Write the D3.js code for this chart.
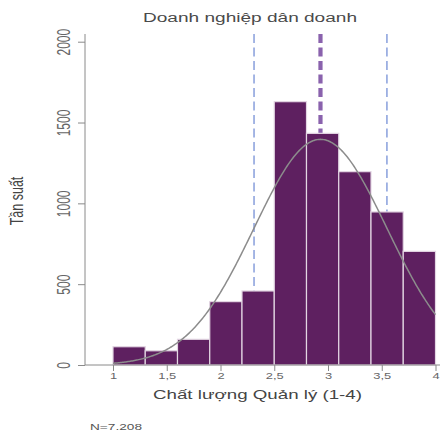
<!DOCTYPE html>
<html>
<head>
<meta charset="utf-8">
<script src="https://cdn.jsdelivr.net/npm/d3@7"></script>
<style>
html,body{margin:0;padding:0;background:#fff;}
svg{display:block;}
text{font-family:"Liberation Sans",Arial,Helvetica,sans-serif;}
</style>
</head>
<body>
<svg id="chart" width="440" height="432"></svg>
<script>
// ---- data ----
const binStarts = [1.0, 1.3, 1.6, 1.9, 2.2, 2.5, 2.8, 3.1, 3.4, 3.7];
const binWidth = 0.3;
const counts = [113, 88, 159, 392, 458, 1629, 1433, 1196, 947, 703];
const xTickValues = [1, 1.5, 2, 2.5, 3, 3.5, 4];
const xTickLabels = ["1", "1,5", "2", "2,5", "3", "3,5", "4"];
const yTickValues = [0, 500, 1000, 1500, 2000];
const yTickLabels = ["0", "500", "1000", "1500", "2000"];
const meanValue = 2.93;
const sdValue = 0.618;
const nObs = 7208;
const titleText = "Doanh nghiệp dân doanh";
const xLabel = "Chất lượng Quản lý (1-4)";
const yLabel = "Tần suất";
const noteText = "N=7.208";

// ---- layout ----
const svg = d3.select("#chart");
const X0 = 113, X1 = 435.5, Y0 = 365, Y1 = 41.7, AXIS_X = 85, TOP = 34;
const x = d3.scaleLinear().domain([1, 4]).range([X0, X1]);
const y = d3.scaleLinear().domain([0, 2000]).range([Y0, Y1]);
const SX = 1.52; // horizontal text stretch

// reference lines (behind bars)
[meanValue - sdValue, meanValue + sdValue].forEach(v => {
  svg.append("line")
    .attr("x1", x(v)).attr("x2", x(v)).attr("y1", TOP).attr("y2", Y0)
    .attr("stroke", "#9cafe2").attr("stroke-width", 1.8)
    .attr("stroke-dasharray", "9,4.5");
});
svg.append("line")
  .attr("x1", x(meanValue)).attr("x2", x(meanValue)).attr("y1", TOP).attr("y2", Y0)
  .attr("stroke", "#8a62ad").attr("stroke-width", 4.2)
  .attr("stroke-dasharray", "9,4.5");

// bars
svg.append("g").selectAll("rect").data(binStarts).join("rect")
  .attr("x", d => x(d))
  .attr("width", d => x(d + binWidth) - x(d))
  .attr("y", (d, i) => y(counts[i]))
  .attr("height", (d, i) => y(0) - y(counts[i]))
  .attr("fill", "#5e2060")
  .attr("stroke", "#e3d6e3").attr("stroke-width", 1.2);

// normal curve
const pts = d3.range(0, 301).map(i => {
  const v = 1 + i * 0.01;
  const z = (v - meanValue) / sdValue;
  return [v, nObs * binWidth / (sdValue * Math.sqrt(2 * Math.PI)) * Math.exp(-0.5 * z * z)];
});
svg.append("path")
  .attr("d", d3.line().x(d => x(d[0])).y(d => y(d[1]))(pts))
  .attr("fill", "none").attr("stroke", "#8c8c8c").attr("stroke-width", 1.5);

// axis lines
svg.append("line").attr("x1", AXIS_X).attr("x2", 440).attr("y1", Y0).attr("y2", Y0)
  .attr("stroke", "#8a8a8a").attr("stroke-width", 1);
svg.append("line").attr("x1", AXIS_X).attr("x2", AXIS_X).attr("y1", TOP).attr("y2", Y0)
  .attr("stroke", "#8a8a8a").attr("stroke-width", 1);

// x axis
const xAxis = svg.append("g").attr("transform", `translate(0,${Y0})`)
  .call(d3.axisBottom(x).tickValues(xTickValues)
    .tickFormat((d, i) => xTickLabels[i]).tickSize(6).tickSizeOuter(0));
xAxis.select(".domain").remove();
xAxis.selectAll(".tick line").attr("stroke", "#8a8a8a");
xAxis.selectAll(".tick text")
  .attr("y", 14).attr("dy", 0)
  .attr("transform", `scale(${SX},1)`)
  .attr("fill", "#666").style("font-size", "8.5px");

// y axis
const yAxis = svg.append("g").attr("transform", `translate(${AXIS_X},0)`)
  .call(d3.axisLeft(y).tickValues(yTickValues)
    .tickFormat((d, i) => yTickLabels[i]).tickSize(7).tickSizeOuter(0));
yAxis.select(".domain").remove();
yAxis.selectAll(".tick line").attr("stroke", "#8a8a8a");
yAxis.selectAll(".tick text")
  .attr("x", 0).attr("y", 0).attr("dy", 0)
  .attr("text-anchor", "middle")
  .attr("transform", `translate(-15,0) scale(${SX},1) rotate(-90)`)
  .attr("fill", "#666").style("font-size", "12px");

// title
svg.append("text").attr("x", 250).attr("y", 22)
  .attr("text-anchor", "middle")
  .attr("textLength", 214).attr("lengthAdjust", "spacingAndGlyphs")
  .attr("fill", "#4a4a4a").style("font-size", "12.5px")
  .text(titleText);

// x label
svg.append("text").attr("x", 153).attr("y", 399)
  .attr("textLength", 209).attr("lengthAdjust", "spacingAndGlyphs")
  .attr("fill", "#444").style("font-size", "12.5px")
  .text(xLabel);

// y label
svg.append("text")
  .attr("text-anchor", "middle")
  .attr("transform", `translate(23,201) scale(${SX},1) rotate(-90)`)
  .attr("fill", "#444").style("font-size", "12.5px")
  .text(yLabel);

// note
svg.append("text").attr("x", 90).attr("y", 430)
  .attr("textLength", 52).attr("lengthAdjust", "spacingAndGlyphs")
  .attr("fill", "#555").style("font-size", "9px")
  .text(noteText);
</script>
</body>
</html>
